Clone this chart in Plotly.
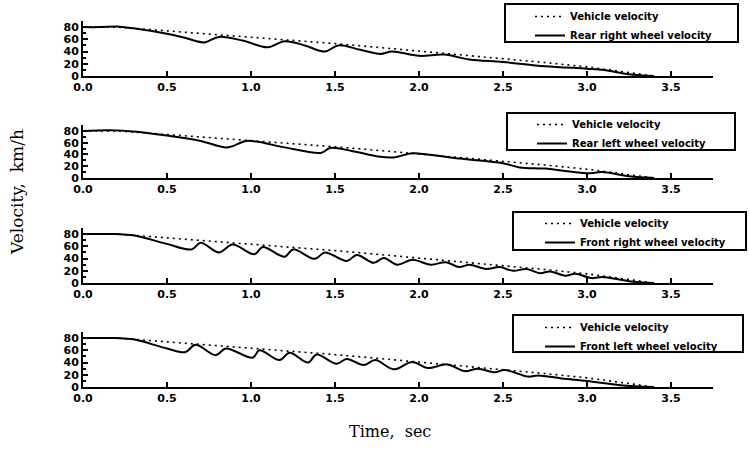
import plotly.graph_objects as go

W, H = 749, 449

# ---------------- data ----------------
vehicle_t = [0, 0.1, 0.2, 0.3, 0.5, 0.75, 1.0, 1.25, 1.5, 1.75, 2.0, 2.25, 2.5, 2.75, 3.0, 3.2, 3.4]
vehicle_v = [80, 80, 80, 78, 74, 69, 64, 59, 53, 47, 41, 35, 29, 22, 15, 8, 0]

rr_t = [0, 0.1, 0.2, 0.3, 0.5, 0.6, 0.72, 0.81, 0.95, 1.10, 1.20, 1.32, 1.44, 1.52, 1.65, 1.77, 1.84,
        2.0, 2.15, 2.3, 2.5, 2.75, 3.0, 3.1, 3.25, 3.4]
rr_v = [80, 80, 81, 78, 69, 63, 55, 64, 58, 47, 57, 50, 40, 50, 43, 36, 40,
        33, 35, 27, 23, 16, 12, 10, 3, 0]

rl_t = [0, 0.16, 0.3, 0.5, 0.7, 0.86, 0.97, 1.05, 1.2, 1.42, 1.47, 1.6, 1.77, 1.85, 1.96, 2.05,
        2.24, 2.5, 2.6, 2.75, 3.0, 3.09, 3.25, 3.4]
rl_v = [80, 81, 79, 72, 63, 52, 63, 61, 52, 43, 51, 46, 36, 35, 42, 40,
        33, 25, 18, 16, 8, 10, 3, 0]

fr_t = [0, 0.2, 0.3, 0.5, 0.647, 0.70, 0.81, 0.89, 1.02, 1.07, 1.20, 1.25, 1.38, 1.44, 1.57, 1.63,
        1.73, 1.79, 1.87, 1.96, 2.07, 2.16, 2.24, 2.30, 2.40, 2.48, 2.56, 2.64, 2.72, 2.78, 2.87,
        2.93, 3.03, 3.09, 3.25, 3.4]
fr_v = [80, 80, 78, 64, 55, 66, 50, 63, 47, 59, 43, 55, 39.5, 50, 36, 46,
        33, 41, 30, 38, 30, 34, 26, 30, 23, 26, 20, 23, 16, 19, 12,
        15, 8, 10, 3, 0]

fl_t = [0, 0.2, 0.3, 0.5, 0.607, 0.67, 0.79, 0.85, 1.01, 1.05, 1.17, 1.23, 1.34, 1.39, 1.51, 1.57,
        1.67, 1.74, 1.85, 1.96, 2.05, 2.17, 2.27, 2.35, 2.45, 2.51, 2.65, 2.71, 2.85, 3.0, 3.2, 3.4]
fl_v = [80, 80, 78, 63, 57, 69, 52, 63, 48, 60, 44, 56, 40, 53, 38, 46,
        36, 44, 29, 41, 31, 37, 26, 30, 24, 28, 17, 19, 14, 10, 3, 0]

wheel_names = ["Rear right wheel velocity", "Rear left wheel velocity",
               "Front right wheel velocity", "Front left wheel velocity"]
wheel_t = [rr_t, rl_t, fr_t, fl_t]
wheel_v = [rr_v, rl_v, fr_v, fl_v]

x_ticks = [0, 0.5, 1.0, 1.5, 2.0, 2.5, 3.0, 3.5]
y_ticks = [0, 20, 40, 60, 80]

# ---------------- layout geometry (screen pixels) ----------------
x_left, x_right = 83, 713
panel_px = [(21, 76), (125, 178), (228, 283), (332, 387)]          # top, bottom
legend_box_px = [(505, 4, 738, 42), (507, 113, 735, 150),
                 (513, 212, 746, 250), (513, 315, 743, 352)]       # x0, y0, x1, y1
legend_pos_px = [(530, 2), (532, 110), (540, 209), (540, 313)]

def px_x(x):
    return x / W

def px_y(y):
    return 1 - y / H

fig = go.Figure()
tick_font = dict(family="DejaVu Sans", size=11, color="black", weight="bold")
legend_font = dict(family="DejaVu Sans", size=10, color="black", weight="bold")

layout = dict(
    width=W, height=H,
    margin=dict(l=0, r=0, t=0, b=0),
    paper_bgcolor="white", plot_bgcolor="white",
    shapes=[], annotations=[],
)

for i in range(4):
    sfx = "" if i == 0 else str(i + 1)
    leg = "legend" if i == 0 else f"legend{i + 1}"
    fig.add_trace(go.Scatter(
        x=vehicle_t, y=vehicle_v, mode="lines", name="Vehicle velocity",
        line=dict(color="black", width=1.6, dash="2px,4px"),
        xaxis="x" + sfx, yaxis="y" + sfx, legend=leg,
    ))
    fig.add_trace(go.Scatter(
        x=wheel_t[i], y=wheel_v[i], mode="lines", name=wheel_names[i],
        line=dict(color="black", width=2, shape="spline", smoothing=1.0),
        xaxis="x" + sfx, yaxis="y" + sfx, legend=leg,
    ))
    top, bot = panel_px[i]
    layout["xaxis" + sfx] = dict(
        domain=[px_x(x_left), px_x(x_right)], range=[0, 3.75],
        anchor="y" + sfx, tickvals=x_ticks, tickformat=".1f",
        ticks="inside", ticklen=5, tickwidth=2, tickcolor="black",
        showline=True, linewidth=2, linecolor="black",
        showgrid=False, zeroline=False, tickfont=tick_font, automargin=False,
    )
    layout["yaxis" + sfx] = dict(
        domain=[px_y(bot), px_y(top)], range=[0, 90],
        anchor="x" + sfx, tickvals=y_ticks,
        ticks="inside", ticklen=5, tickwidth=2, tickcolor="black",
        minor=dict(tickvals=[10, 30, 50, 70], ticks="inside", ticklen=3, tickwidth=2, tickcolor="black"),
        showline=True, linewidth=2, linecolor="black",
        showgrid=False, zeroline=False, tickfont=tick_font, automargin=False,
    )
    lx, ly = legend_pos_px[i]
    layout[leg] = dict(
        x=px_x(lx), y=px_y(ly), xanchor="left", yanchor="top",
        xref="paper", yref="paper",
        bgcolor="rgba(0,0,0,0)", borderwidth=0, font=legend_font,
        tracegroupgap=0, itemwidth=30,
    )
    x0, y0, x1, y1 = legend_box_px[i]
    layout["shapes"].append(dict(
        type="rect", xref="paper", yref="paper",
        x0=px_x(x0), x1=px_x(x1), y0=px_y(y1), y1=px_y(y0),
        line=dict(color="black", width=2), fillcolor="rgba(0,0,0,0)", layer="above",
    ))

layout["annotations"] = [
    dict(text="Velocity,&nbsp;&nbsp;km/h", x=px_x(17), y=px_y(192), xref="paper", yref="paper",
         showarrow=False, textangle=-90, xanchor="center", yanchor="middle",
         font=dict(family="DejaVu Serif", size=17, color="black")),
    dict(text="Time,&nbsp;&nbsp;sec", x=px_x(390), y=px_y(431), xref="paper", yref="paper",
         showarrow=False, xanchor="center", yanchor="middle",
         font=dict(family="DejaVu Serif", size=16, color="black")),
]

fig.update_layout(**layout)
fig.update_layout(showlegend=True)
fig.write_html(
    "out.html",
    config={"displayModeBar": False},
    post_script="document.body.style.margin='0';document.body.style.padding='0';"
                "document.body.style.overflow='hidden';",
)
